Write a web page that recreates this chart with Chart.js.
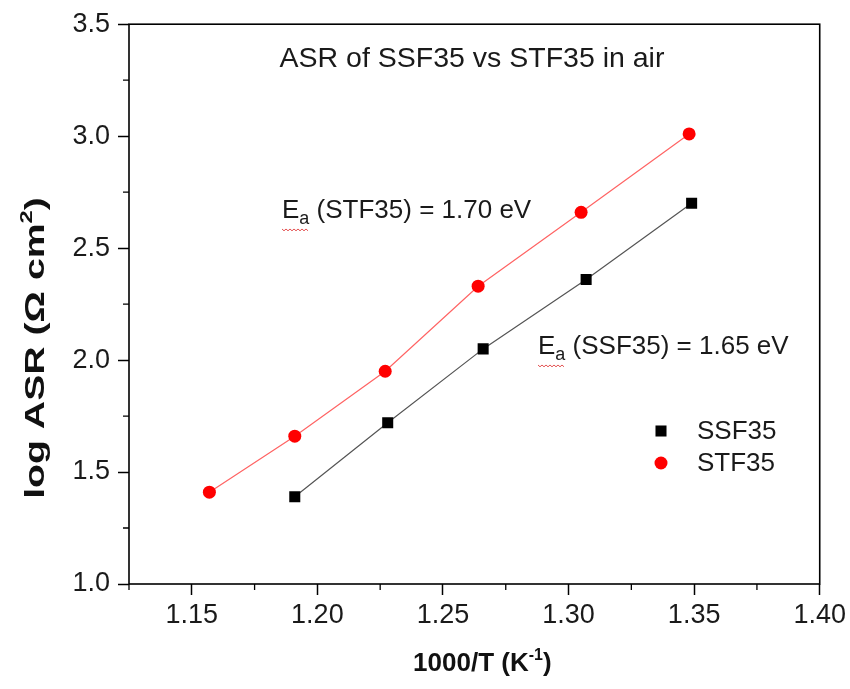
<!DOCTYPE html>
<html>
<head>
<meta charset="utf-8">
<script src="https://cdn.jsdelivr.net/npm/chart.js@4/dist/chart.umd.min.js"></script>
<style>
  html, body { margin: 0; padding: 0; background: #fff; }
  #wrap { width: 850px; height: 689px; }
</style>
</head>
<body>
<div id="wrap"><canvas id="chart" width="850" height="689"></canvas></div>
<script>
// values
const ssfX = [1.191, 1.228, 1.266, 1.307, 1.349];
const ssfY = [1.39, 1.72, 2.05, 2.36, 2.70];
const stfX = [1.157, 1.191, 1.227, 1.264, 1.305, 1.348];
const stfY = [1.41, 1.66, 1.95, 2.33, 2.66, 3.01];

const xTicks = [1.15, 1.20, 1.25, 1.30, 1.35, 1.40];
const xMinor = [1.125, 1.175, 1.225, 1.275, 1.325, 1.375];
const yTicks = [1.0, 1.5, 2.0, 2.5, 3.0, 3.5];
const yMinor = [1.25, 1.75, 2.25, 2.75, 3.25];

const chartTitle = 'ASR of SSF35 vs STF35 in air';
const labelSTF = ['E', 'a', ' (STF35) = 1.70 eV'];
const labelSSF = ['E', 'a', ' (SSF35) = 1.65 eV'];
const xTitle = ['1000/T (K', '-1', ')'];
const yTitle = ['log ASR (\u03A9 cm', '2', ')'];

const FONT = '"Liberation Sans", Arial, sans-serif';

const toPoints = (xs, ys) => xs.map((x, i) => ({ x: x, y: ys[i] }));

// draws "main + superscript + tail" centred on 0,0 of the current transform
function supText(ctx, parts, size) {
    const big = 'bold ' + size + 'px ' + FONT;
    const small = 'bold ' + Math.round(size * 0.6) + 'px ' + FONT;
    ctx.font = big;
    const w0 = ctx.measureText(parts[0]).width;
    const w2 = ctx.measureText(parts[2]).width;
    ctx.font = small;
    const w1 = ctx.measureText(parts[1]).width;
    let x = -(w0 + w1 + w2) / 2;
    ctx.textAlign = 'left';
    ctx.textBaseline = 'alphabetic';
    const base = size * 0.36;
    ctx.font = big;
    ctx.fillText(parts[0], x, base);
    ctx.font = small;
    ctx.fillText(parts[1], x + w0, base - size * 0.42);
    ctx.font = big;
    ctx.fillText(parts[2], x + w0 + w1, base);
}

// frame, minor ticks, axis titles, texts and legend
const extras = {
    id: 'extras',
    afterDraw(chart) {
        const ctx = chart.ctx;
        const a = chart.chartArea;
        const xs = chart.scales.x, ys = chart.scales.y;
        ctx.save();
        ctx.strokeStyle = '#000';
        ctx.lineWidth = 1.6;
        ctx.strokeRect(a.left, a.top, a.right - a.left, a.bottom - a.top);

        ctx.lineWidth = 1.3;
        ctx.beginPath();
        xMinor.forEach(v => {
            const px = xs.getPixelForValue(v);
            ctx.moveTo(px, a.bottom);
            ctx.lineTo(px, a.bottom + 6);
        });
        yMinor.forEach(v => {
            const py = ys.getPixelForValue(v);
            ctx.moveTo(a.left, py);
            ctx.lineTo(a.left - 6, py);
        });
        ctx.stroke();

        // axis titles
        ctx.fillStyle = '#111';
        ctx.save();
        ctx.translate((a.left + a.right) / 2 + 8, 662);
        supText(ctx, xTitle, 26);
        ctx.restore();
        ctx.save();
        ctx.translate(34, 348);
        ctx.rotate(-Math.PI / 2);
        ctx.scale(1.4, 1);
        supText(ctx, yTitle, 28);
        ctx.restore();

        ctx.fillStyle = '#1a1a1a';
        ctx.textBaseline = 'alphabetic';
        ctx.font = '28.5px ' + FONT;
        ctx.textAlign = 'center';
        ctx.fillText(chartTitle, 472, 67);

        // Ea labels with subscript
        function eaLabel(parts, x, y) {
            ctx.textAlign = 'left';
            ctx.font = '26px ' + FONT;
            ctx.fillText(parts[0], x, y);
            const w = ctx.measureText(parts[0]).width;
            ctx.font = '18px ' + FONT;
            ctx.fillText(parts[1], x + w, y + 6);
            const wa = ctx.measureText(parts[1]).width;
            // spell-check squiggle
            ctx.strokeStyle = '#e04040';
            ctx.lineWidth = 0.9;
            ctx.beginPath();
            for (let i = 0; i <= w + wa; i += 2) {
                const yy = y + 11 + (i % 4 === 0 ? 0 : 1.8);
                if (i === 0) ctx.moveTo(x + i, yy); else ctx.lineTo(x + i, yy);
            }
            ctx.stroke();
            ctx.font = '26px ' + FONT;
            ctx.fillText(parts[2], x + w + wa, y);
        }
        eaLabel(labelSTF, 282, 218);
        eaLabel(labelSSF, 538, 354);

        // legend
        const ds = chart.data.datasets;
        const ly = [431, 463];
        ctx.font = '26px ' + FONT;
        ctx.textAlign = 'left';
        ctx.textBaseline = 'middle';
        ds.forEach((d, i) => {
            ctx.fillStyle = d.pointBackgroundColor;
            ctx.beginPath();
            if (d.pointStyle === 'rect') {
                const s = d.pointRadius * Math.SQRT1_2;
                ctx.rect(661 - s, ly[i] - s, 2 * s, 2 * s);
            } else {
                ctx.arc(661, ly[i], d.pointRadius, 0, Math.PI * 2);
            }
            ctx.fill();
            ctx.fillStyle = '#1a1a1a';
            ctx.fillText(d.label, 697, ly[i] + 1);
        });
        ctx.restore();
    }
};

new Chart(document.getElementById('chart').getContext('2d'), {
    type: 'scatter',
    data: {
        datasets: [{
            label: 'SSF35',
            data: toPoints(ssfX, ssfY),
            showLine: true,
            borderColor: '#555555',
            borderWidth: 1.2,
            pointStyle: 'rect',
            pointRadius: 7.8,
            pointBackgroundColor: '#000000',
            pointBorderWidth: 0,
            pointBorderColor: '#000000'
        }, {
            label: 'STF35',
            data: toPoints(stfX, stfY),
            showLine: true,
            borderColor: '#ff6464',
            borderWidth: 1.2,
            pointStyle: 'circle',
            pointRadius: 6.5,
            pointBackgroundColor: '#ff0000',
            pointBorderWidth: 0,
            pointBorderColor: '#ff0000'
        }]
    },
    options: {
        responsive: false,
        animation: false,
        events: [],
        layout: { padding: { left: 0, right: 29, top: 22, bottom: 0 } },
        plugins: { legend: { display: false }, tooltip: { enabled: false } },
        scales: {
            x: {
                type: 'linear',
                min: 1.125,
                max: 1.40,
                afterBuildTicks(scale) { scale.ticks = xTicks.map(v => ({ value: v })); },
                afterFit(scale) { scale.height = 105; },
                border: { display: false },
                grid: { drawOnChartArea: false, tickLength: 11, tickWidth: 1.5, tickColor: '#000' },
                ticks: {
                    color: '#1a1a1a', padding: 4, maxRotation: 0,
                    font: { family: FONT, size: 27 },
                    callback: v => v.toFixed(2)
                }
            },
            y: {
                type: 'linear',
                min: 1.0,
                max: 3.5,
                afterBuildTicks(scale) { scale.ticks = yTicks.map(v => ({ value: v })); },
                afterFit(scale) { scale.width = 129; },
                border: { display: false },
                grid: { drawOnChartArea: false, tickLength: 11, tickWidth: 1.5, tickColor: '#000' },
                ticks: {
                    color: '#1a1a1a', padding: 8,
                    font: { family: FONT, size: 27 },
                    callback: v => v.toFixed(1)
                }
            }
        }
    },
    plugins: [extras]
});
</script>
</body>
</html>
